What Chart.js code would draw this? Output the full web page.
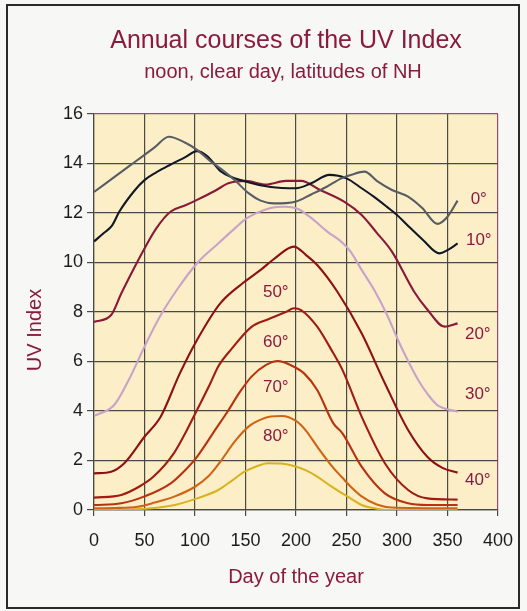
<!DOCTYPE html>
<html><head><meta charset="utf-8">
<script src="https://cdn.jsdelivr.net/npm/chart.js@4"></script>
<style>
html,body{margin:0;padding:0;background:#f7f7f5;}
#wrap{position:relative;width:527px;height:611px;overflow:hidden;}
#frame{position:absolute;left:6px;top:4px;width:514px;height:605px;border:2px solid #2a2a2a;box-sizing:border-box;pointer-events:none;}
canvas{position:absolute;left:0;top:0;}
</style></head><body>
<div id="wrap"><canvas id="c" width="527" height="611" style="width:527px;height:611px"></canvas><div id="frame"></div></div>
<script>
// ---- data ----
const days0 = [0, 20, 40, 60, 74, 90, 102, 115, 127, 140, 153, 165, 178, 190, 200, 215, 230, 245, 255, 268, 280, 295, 311, 325, 340, 350, 360];
const uv0   = [12.85, 13.45, 14.05, 14.65, 15.08, 14.85, 14.55, 14.1, 13.74, 13.3, 12.8, 12.5, 12.39, 12.4, 12.46, 12.75, 13.05, 13.4, 13.55, 13.67, 13.3, 12.93, 12.66, 12.2, 11.56, 11.85, 12.5];
const days10 = [0, 10, 18, 25, 40, 50, 62, 75, 90, 102, 112, 126, 150, 175, 200, 215, 233, 250, 265, 277, 290, 300, 313, 326, 342, 350, 360];
const uv10   = [10.85, 11.2, 11.5, 12.05, 12.9, 13.33, 13.65, 13.94, 14.25, 14.5, 14.3, 13.67, 13.27, 13.05, 13.0, 13.2, 13.54, 13.4, 13.0, 12.66, 12.25, 11.92, 11.4, 10.9, 10.37, 10.5, 10.77];
const days20 = [0, 17, 27, 40, 50, 62, 76, 90, 102, 120, 133, 150, 170, 190, 205, 224, 248, 265, 280, 295, 317, 330, 347, 360];
const uv20   = [7.6, 7.88, 8.75, 9.8, 10.57, 11.4, 12.06, 12.3, 12.53, 12.9, 13.2, 13.3, 13.15, 13.3, 13.3, 12.93, 12.45, 11.92, 11.2, 10.44, 8.82, 8.1, 7.41, 7.54];
const days30 = [0, 20, 35, 50, 65, 82, 102, 123, 140, 150, 175, 189, 202, 215, 231, 246, 254, 265, 278, 290, 301, 310, 321, 330, 340, 360];
const uv30   = [3.8, 4.24, 5.3, 6.6, 7.8, 8.89, 9.97, 10.77, 11.4, 11.75, 12.2, 12.25, 12.16, 11.8, 11.25, 10.8, 10.44, 9.7, 8.85, 7.9, 6.87, 6.1, 5.25, 4.7, 4.24, 3.97];
const days40 = [0, 17, 30, 50, 66, 85, 102, 125, 149, 165, 179, 198, 210, 221, 241, 265, 288, 311, 330, 345, 360];
const uv40   = [1.48, 1.55, 1.89, 2.96, 3.77, 5.52, 6.87, 8.35, 9.22, 9.7, 10.17, 10.64, 10.3, 9.9, 8.82, 7.14, 5.12, 3.23, 2.15, 1.7, 1.51];
const days50 = [0, 27, 45, 59, 79, 92, 102, 115, 123, 136, 156, 172, 190, 198, 205, 221, 237, 246, 265, 288, 311, 330, 360];
const uv50   = [0.5, 0.61, 0.95, 1.35, 2.29, 3.23, 4.04, 5.1, 5.8, 6.5, 7.4, 7.7, 8.0, 8.15, 8.08, 7.41, 6.33, 5.66, 3.77, 1.89, 0.81, 0.47, 0.42];
const days60 = [0, 27, 50, 76, 90, 102, 121, 131, 145, 156, 170, 182, 195, 208, 221, 237, 246, 265, 288, 311, 330, 360];
const uv60   = [0.2, 0.27, 0.55, 1.08, 1.6, 2.15, 3.3, 3.9, 4.8, 5.39, 5.85, 6.02, 5.85, 5.52, 4.85, 3.5, 3.1, 1.75, 0.67, 0.27, 0.2, 0.2];
const days70 = [0, 20, 43, 60, 80, 100, 113, 125, 140, 153, 165, 175, 186, 200, 210, 221, 237, 246, 254, 265, 280, 295, 360];
const uv70   = [0.07, 0.08, 0.13, 0.3, 0.55, 0.94, 1.35, 1.95, 2.8, 3.37, 3.65, 3.78, 3.8, 3.6, 3.2, 2.56, 1.7, 1.3, 0.95, 0.55, 0.22, 0.1, 0.07];
const days80 = [0, 40, 60, 80, 102, 123, 137, 149, 160, 172, 185, 198, 210, 221, 235, 246, 254, 265, 280, 290, 360];
const uv80   = [0.0, 0.03, 0.08, 0.2, 0.47, 0.81, 1.2, 1.55, 1.75, 1.89, 1.88, 1.78, 1.6, 1.35, 0.95, 0.67, 0.47, 0.2, 0.05, 0.0, 0.0];

const seriesNames = ['0°', '10°', '20°', '30°', '40°', '50°', '60°', '70°', '80°'];
const seriesDays = [days0, days10, days20, days30, days40, days50, days60, days70, days80];
const seriesUV = [uv0, uv10, uv20, uv30, uv40, uv50, uv60, uv70, uv80];
const seriesColors = ['#585c63', '#111827', '#8a1838', '#c9a2c9', '#8d1014', '#a01c12', '#b8320f', '#cf6414', '#d9b21e'];

// latitude annotations: text, day, UV position
const labelText = ['0°', '10°', '20°', '30°', '40°', '50°', '60°', '70°', '80°'];
const labelDay  = [381, 381, 380, 380, 380, 180, 180, 180, 180];
const labelUV   = [12.57, 10.9, 7.11, 4.69, 1.21, 8.81, 6.79, 4.97, 2.99];

const xTicksMin = 0, xTicksMax = 400, xStep = 50;
const yTicksMin = 0, yTicksMax = 16, yStep = 2;

const titleText = 'Annual courses of the UV Index';
const subtitleText = 'noon, clear day, latitudes of NH';
const yTitleText = 'UV Index';
const xTitleText = 'Day of the year';

const FONT = "'Liberation Sans', Arial, Helvetica, sans-serif";
const MAROON = '#8b1a3f';
const GRID = '#4a4a44';

const datasets = seriesNames.map((name, i) => ({
  label: name,
  data: seriesDays[i].map((d, j) => ({ x: d, y: seriesUV[i][j] })),
  borderColor: seriesColors[i],
  backgroundColor: seriesColors[i],
  borderWidth: 2.1,
  pointRadius: 0,
  fill: false,
  cubicInterpolationMode: 'monotone'
}));

const decor = {
  id: 'decor',
  beforeDraw(chart) {
    const { ctx, chartArea: a } = chart;
    ctx.save();
    ctx.fillStyle = '#fcefc8';
    ctx.fillRect(a.left, a.top, a.right - a.left, a.bottom - a.top);
    ctx.restore();
  },
  afterDraw(chart) {
    const { ctx, scales } = chart;
    ctx.save();
    ctx.fillStyle = MAROON;
    ctx.textAlign = 'center';
    ctx.textBaseline = 'alphabetic';
    ctx.font = '25px ' + FONT;
    ctx.fillText(titleText, 286, 48);
    ctx.font = '20px ' + FONT;
    ctx.fillText(subtitleText, 283, 78);
    // y title
    ctx.save();
    ctx.translate(35, 330);
    ctx.rotate(-Math.PI / 2);
    ctx.textBaseline = 'middle';
    ctx.font = '20px ' + FONT;
    ctx.fillText(yTitleText, 0, 0);
    ctx.restore();
    // latitude labels
    ctx.font = '17px ' + FONT;
    ctx.textBaseline = 'middle';
    labelText.forEach((t, i) => {
      const x = scales.x.getPixelForValue(labelDay[i]);
      const y = scales.y.getPixelForValue(labelUV[i]);
      ctx.fillText(t, x, y);
    });
    ctx.restore();
  }
};

new Chart(document.getElementById('c'), {
  type: 'line',
  data: { datasets },
  plugins: [decor],
  options: {
    responsive: false,
    animation: false,
    devicePixelRatio: 1,
    layout: { padding: { top: 114, right: 25, bottom: 0, left: 0 } },
    plugins: { legend: { display: false }, tooltip: { enabled: false }, title: { display: false } },
    scales: {
      x: {
        type: 'linear',
        min: xTicksMin, max: xTicksMax,
        afterFit(s) { s.height = 101; },
        ticks: { stepSize: xStep, autoSkip: false, maxRotation: 0, padding: 14, color: '#1c1c1c', font: { family: FONT, size: 18 } },
        grid: {
          color: (c) => (c.tick && c.tick.value === xTicksMax) ? '#a84868' : GRID,
          tickColor: GRID, lineWidth: 1.2, tickLength: 6
        },
        border: { color: GRID, width: 1.2 },
        title: { display: true, text: xTitleText, color: MAROON, font: { family: FONT, size: 20 }, padding: { top: 0, bottom: 22 } }
      },
      y: {
        min: yTicksMin, max: yTicksMax,
        afterFit(s) { s.width = 94; },
        ticks: { stepSize: yStep, padding: 4, color: '#1c1c1c', font: { family: FONT, size: 18 } },
        grid: {
          color: (c) => (c.tick && c.tick.value === yTicksMax) ? '#a84868' : GRID,
          tickColor: GRID, lineWidth: 1.2, tickLength: 7
        },
        border: { color: GRID, width: 1.2 }
      }
    }
  }
});
</script>
</body></html>
